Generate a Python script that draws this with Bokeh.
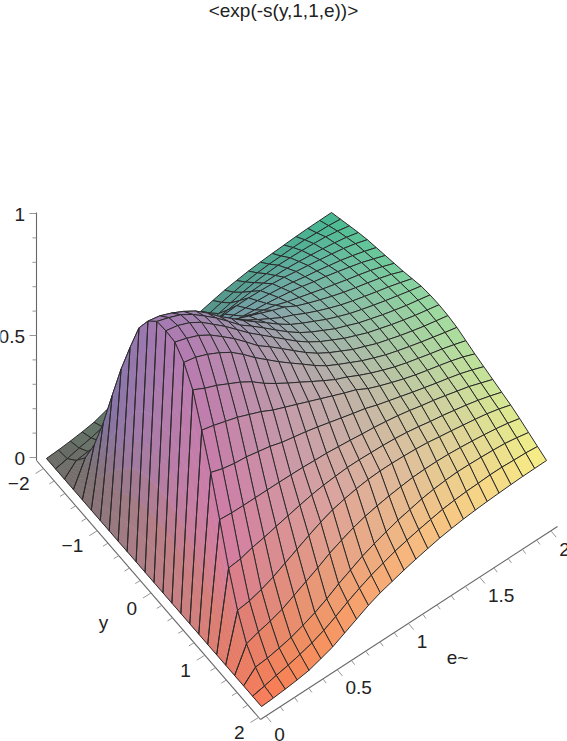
import numpy as np
from bokeh.plotting import figure
from bokeh.core.properties import value
from bokeh.embed import file_html
from bokeh.resources import INLINE

TITLE = "<exp(-s(y,1,1,e))>"
Y_LABEL = "y"
E_LABEL = "e~"
Y_TICKS = [-2, -1, 0, 1, 2]
Y_TICK_TEXT = ["\u22122", "\u22121", "0", "1", "2"]
E_TICKS = [0, 0.5, 1, 1.5, 2]
E_TICK_TEXT = ["0", "0.5", "1", "1.5", "2"]
Z_TICKS = [0, 0.5, 1]
Z_TICK_TEXT = ["0", "0.5", "1"]

# surface grid
y_grid = [round(-2 + i / 6, 6) for i in range(25)]
e_grid = [round(i / 12, 6) for i in range(25)]

# surface height: one row per e value,
# columns from y = 0 out to |y| = 2 (the surface is even in y)
z_rows = [
    [0, 0, 0, 0, 0, 0, 0, 0, 0, 0, 0, 0, 0],
    [1, .996, .955, .885, .762, .631, .48, .324, .193, .098, .045, .01, .003],
    [.99, .98, .945, .86, .75, .615, .476, .33, .20, .115, .05, .022, .008],
    [.97, .96, .925, .84, .735, .605, .475, .345, .215, .128, .06, .032, .014],
    [.94, .93, .90, .815, .72, .60, .475, .355, .235, .145, .072, .045, .022],
    [.90, .892, .87, .79, .70, .59, .475, .368, .26, .17, .09, .06, .038],
    [.86, .852, .83, .76, .68, .58, .475, .38, .285, .195, .11, .08, .055],
    [.815, .807, .785, .722, .655, .565, .474, .392, .31, .22, .135, .105, .08],
    [.77, .76, .745, .69, .635, .555, .473, .403, .333, .248, .165, .133, .105],
    [.73, .724, .705, .66, .615, .545, .47, .411, .352, .27, .19, .158, .13],
    [.69, .685, .668, .632, .595, .533, .468, .416, .365, .29, .215, .18, .15],
    [.65, .645, .632, .603, .575, .52, .463, .42, .375, .305, .235, .198, .165],
    [.61, .606, .595, .575, .555, .507, .458, .42, .382, .316, .252, .215, .18],
    [.575, .571, .562, .548, .535, .494, .452, .418, .385, .325, .268, .228, .193],
    [.545, .542, .536, .527, .517, .482, .447, .416, .385, .332, .28, .24, .205],
    [.52, .517, .512, .502, .49, .465, .44, .412, .383, .338, .292, .25, .216],
    [.495, .492, .488, .48, .47, .451, .432, .406, .38, .34, .30, .26, .224],
    [.475, .473, .468, .46, .452, .437, .422, .398, .375, .34, .305, .266, .231],
    [.455, .453, .449, .442, .435, .423, .41, .388, .367, .338, .308, .27, .236],
    [.44, .438, .434, .427, .42, .41, .40, .38, .36, .334, .307, .272, .24],
    [.425, .423, .42, .414, .407, .397, .388, .37, .352, .329, .305, .275, .243],
    [.412, .41, .407, .401, .395, .385, .375, .36, .344, .323, .302, .275, .246],
    [.40, .398, .395, .389, .382, .372, .362, .348, .335, .316, .298, .272, .248],
    [.39, .388, .383, .375, .367, .356, .345, .334, .323, .307, .29, .27, .249],
    [.38, .378, .372, .36, .348, .338, .328, .318, .308, .295, .28, .265, .25],
]

half = np.array(z_rows, dtype=float)
Z = np.hstack([half[:, :0:-1], half])   # rows: e, columns: y from -2 to 2
Y, E = np.meshgrid(np.array(y_grid), np.array(e_grid))


def project(y, e, z):
    y, e, z = np.asarray(y, float), np.asarray(e, float), np.asarray(z, float)
    return (46 + (y + 2) * 53.75 + e * 142.5,
            458 + (y + 2) * 62.0 - e * 92.5 - z * 244)


def shade(y, e, z, lift=0.0):
    t = (y + 2) / 4
    r = 104 + 146 * t ** 1.12 - (1 - t) * e / 2 * 34 + lift
    g = 104 + t * 16 + 24 * t * (1 - t) + e / 2 * (81 + t * 39) + lift * 0.7
    b = np.interp(z, [0, .25, .38, .5, 1], [100, 145, 165, 172, 178]) - t * (1 - z) * 14
    return "#%02x%02x%02x" % (int(min(r, 255)), int(min(g, 255)), int(b))


GRID = "#2b2b2b"
sx, sy = project(Y, E, Z)
xs, ys, colors = [], [], []
for j in range(len(e_grid) - 2, 0, -1):
    for k in range(len(y_grid) - 1):
        idx = [(j, k), (j, k + 1), (j + 1, k + 1), (j + 1, k)]
        xs.append([float(sx[i]) for i in idx])
        ys.append([float(sy[i]) for i in idx])
        colors.append(shade(np.mean([Y[i] for i in idx]),
                            np.mean([E[i] for i in idx]),
                            np.mean([Z[i] for i in idx])))

p = figure(width=567, height=741, x_range=(0, 567), y_range=(741, 0),
           output_backend="svg", toolbar_location=None,
           min_border=0, outline_line_color=None, background_fill_color="white",
           margin=(0, 0, 0, 0))
p.axis.visible = False
p.grid.visible = False

p.patches(xs, ys, fill_color=colors, line_color=GRID, line_width=1.0, line_join="round")

# the steep front strip (e between its first two grid values) shades from bottom to top
N_SHADE = 8
fx, fy, fc = [], [], []
for k in range(len(y_grid) - 1):
    ztop = (Z[1, k] + Z[1, k + 1]) / 2
    for s in range(N_SHADE):
        a, b = s / N_SHADE, (s + 1) / N_SHADE
        za, zb = a * Z[1, k], b * Z[1, k]
        zc, zd = a * Z[1, k + 1], b * Z[1, k + 1]
        ea, eb = a * E[1, k], b * E[1, k]
        px, py = project([Y[0, k], Y[0, k], Y[0, k + 1], Y[0, k + 1]],
                         [ea, eb, eb, ea], [za, zb, zd, zc])
        fx.append(px.tolist())
        fy.append(py.tolist())
        zmean = (za + zb + zc + zd) / 4
        fc.append(shade((Y[0, k] + Y[0, k + 1]) / 2, (ea + eb) / 2,
                        max(zmean, 0.22 * ztop ** 0.5), lift=14 * ztop ** 0.5 * (1 - (a + b) / 2)))
p.patches(fx, fy, fill_color=fc, line_color=fc, line_width=0.6)
ox, oy = [], []
for k in range(len(y_grid) - 1):
    idx = [(0, k), (0, k + 1), (1, k + 1), (1, k)]
    ox.append([float(sx[i]) for i in idx])
    oy.append([float(sy[i]) for i in idx])
p.patches(ox, oy, fill_color=None, line_color=GRID, line_width=1.0, line_join="round")

FONT = value("Liberation Sans")
FS = "19px"
AXIS = "#666666"
TICK = "#8a8a8a"
TEXT = "#222222"

# z axis
zx0 = 36.0
def z_y(z):
    return 457 - 244 * np.asarray(z, float)
p.segment([zx0], [z_y(0) + 3], [zx0], [z_y(1) - 1], line_color=AXIS, line_width=1.1)
zt = np.arange(0, 11) / 10
p.segment([zx0] * 11, z_y(zt), [zx0 - (7 if i % 5 == 0 else 4) for i in range(11)], z_y(zt),
          line_color=TICK, line_width=0.9)
p.text([24.5] * 3, z_y(Z_TICKS) + 1, text=Z_TICK_TEXT, text_font=FONT, text_font_size=FS,
       text_align="right", text_baseline="middle", text_color=TEXT)

# y axis
def y_pos(y):
    y = np.asarray(y, float)
    return 43 + (y + 2) * 53.75, 468 + (y + 2) * 62.25
ax0, ay0 = 36.0, 460.0
corner = (260.0, 719.0)
p.segment([ax0], [ay0], [corner[0]], [corner[1]], line_color=AXIS, line_width=1.1)
yt = np.arange(-2, 2.01, 0.2)
tx, ty = y_pos(yt)
maj = np.isclose(yt, np.round(yt))
p.segment(tx, ty, tx - np.where(maj, 8, 5), ty + np.where(maj, 5, 3), line_color=TICK, line_width=0.9)
lx, ly = y_pos(Y_TICKS)
p.text(lx - 14, ly + 15, text=Y_TICK_TEXT, text_font=FONT, text_font_size=FS,
       text_align="right", text_baseline="middle", text_color=TEXT)
p.text([103], [622], text=[Y_LABEL], text_font=FONT, text_font_size=FS,
       text_align="center", text_baseline="middle", text_color=TEXT)

# e axis
def e_pos(e):
    e = np.asarray(e, float)
    return 265.7 + e * 142.5, 715.7 - e * 92.5
p.segment([corner[0]], [corner[1]], [557], [526], line_color=AXIS, line_width=1.1)
et = np.arange(0, 2.01, 0.1)
tx, ty = e_pos(et)
maj = np.isclose(et * 2, np.round(et * 2))
p.segment(tx, ty, tx + np.where(maj, 5, 3), ty + np.where(maj, 6, 4), line_color=TICK, line_width=0.9)
lx, ly = e_pos(E_TICKS)
p.text(lx + 8, ly + 18, text=E_TICK_TEXT, text_font=FONT, text_font_size=FS,
       text_align="left", text_baseline="middle", text_color=TEXT)
p.text([457], [657], text=[E_LABEL], text_font=FONT, text_font_size=FS,
       text_align="center", text_baseline="middle", text_color=TEXT)

# title
p.text([283], [10], text=[TITLE], text_font=FONT, text_font_size=FS,
       text_align="center", text_baseline="middle", text_color=TEXT)

open("out.html", "w").write(file_html(p, INLINE))
